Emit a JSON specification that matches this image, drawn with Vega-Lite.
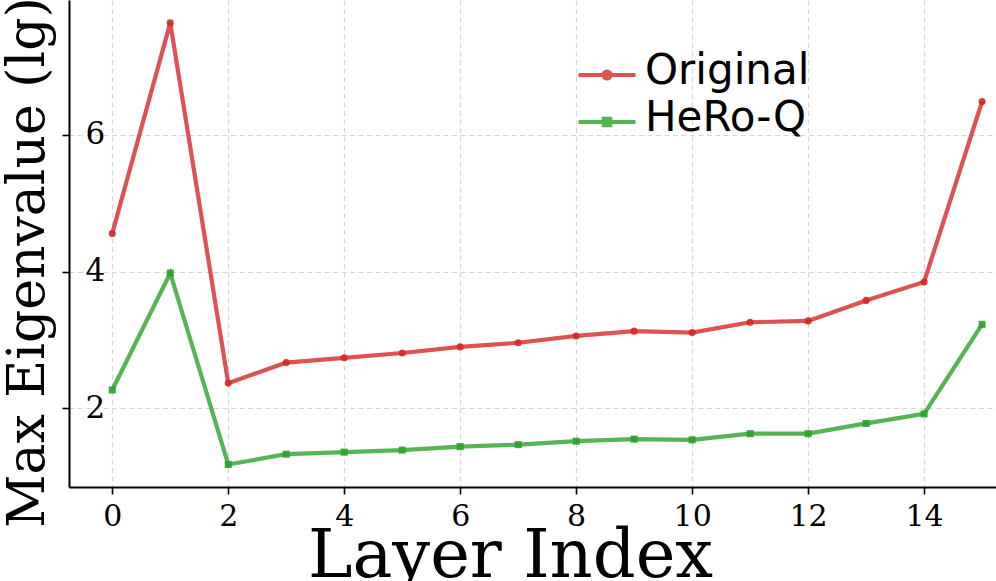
{
  "$schema": "https://vega.github.io/schema/vega-lite/v6.json",
  "autosize": {"type": "none"},
  "padding": {"left": 69, "top": 0, "right": 0, "bottom": 94},
  "width": 927,
  "height": 487,
  "background": "white",
  "data": {"values": [
    {"layer": 0, "value": 4.56, "series": "Original"},
    {"layer": 1, "value": 7.64, "series": "Original"},
    {"layer": 2, "value": 2.37, "series": "Original"},
    {"layer": 3, "value": 2.67, "series": "Original"},
    {"layer": 4, "value": 2.74, "series": "Original"},
    {"layer": 5, "value": 2.81, "series": "Original"},
    {"layer": 6, "value": 2.90, "series": "Original"},
    {"layer": 7, "value": 2.96, "series": "Original"},
    {"layer": 8, "value": 3.06, "series": "Original"},
    {"layer": 9, "value": 3.13, "series": "Original"},
    {"layer": 10, "value": 3.11, "series": "Original"},
    {"layer": 11, "value": 3.26, "series": "Original"},
    {"layer": 12, "value": 3.28, "series": "Original"},
    {"layer": 13, "value": 3.58, "series": "Original"},
    {"layer": 14, "value": 3.85, "series": "Original"},
    {"layer": 15, "value": 6.49, "series": "Original"},
    {"layer": 0, "value": 2.27, "series": "HeRo-Q"},
    {"layer": 1, "value": 3.98, "series": "HeRo-Q"},
    {"layer": 2, "value": 1.18, "series": "HeRo-Q"},
    {"layer": 3, "value": 1.33, "series": "HeRo-Q"},
    {"layer": 4, "value": 1.36, "series": "HeRo-Q"},
    {"layer": 5, "value": 1.39, "series": "HeRo-Q"},
    {"layer": 6, "value": 1.44, "series": "HeRo-Q"},
    {"layer": 7, "value": 1.47, "series": "HeRo-Q"},
    {"layer": 8, "value": 1.52, "series": "HeRo-Q"},
    {"layer": 9, "value": 1.55, "series": "HeRo-Q"},
    {"layer": 10, "value": 1.54, "series": "HeRo-Q"},
    {"layer": 11, "value": 1.63, "series": "HeRo-Q"},
    {"layer": 12, "value": 1.63, "series": "HeRo-Q"},
    {"layer": 13, "value": 1.78, "series": "HeRo-Q"},
    {"layer": 14, "value": 1.92, "series": "HeRo-Q"},
    {"layer": 15, "value": 3.23, "series": "HeRo-Q"}
  ]},
  "encoding": {
    "x": {
      "field": "layer", "type": "quantitative",
      "scale": {"domain": [-0.746, 15.24], "nice": false, "zero": false},
      "axis": {
        "values": [0, 2, 4, 6, 8, 10, 12, 14],
        "title": "Layer Index",
        "titleFont": "DejaVu Serif", "titleFontSize": 67, "titleFontWeight": "normal", "titleColor": "black",
        "titleX": 441, "titleY": 89, "titleBaseline": "alphabetic", "titleAlign": "center", "titleAnchor": null,
        "labelFont": "DejaVu Serif", "labelFontSize": 30, "labelColor": "black", "labelPadding": 7,
        "domainColor": "black", "domainWidth": 2, "tickColor": "black", "tickWidth": 1.6, "tickSize": 7,
        "grid": true, "gridColor": "#d6d6d6", "gridDash": [5, 3.5], "gridWidth": 1.2
      }
    },
    "y": {
      "field": "value", "type": "quantitative",
      "scale": {"domain": [0.85, 7.975], "nice": false, "zero": false},
      "axis": {
        "values": [2, 4, 6],
        "title": "Max Eigenvalue (lg)",
        "titleFont": "DejaVu Serif", "titleFontSize": 52, "titleFontWeight": "normal", "titleColor": "black",
        "titleAngle": -90, "titleX": -26, "titleY": 262, "titleBaseline": "alphabetic", "titleAlign": "center", "titleAnchor": null,
        "labelFont": "DejaVu Serif", "labelFontSize": 31, "labelColor": "black", "labelAlign": "left", "labelPadding": -23,
        "domainColor": "black", "domainWidth": 2, "tickColor": "black", "tickWidth": 1.6, "tickSize": 7,
        "grid": true, "gridColor": "#d6d6d6", "gridDash": [5, 3.5], "gridWidth": 1.2
      }
    },
    "color": {
      "field": "series", "type": "nominal",
      "scale": {"domain": ["Original", "HeRo-Q"], "range": ["#d62728", "#2ca02c"]},
      "legend": {
        "title": null, "orient": "none", "legendX": 517, "legendY": 54,
        "padding": 0, "symbolSize": 400, "symbolStrokeWidth": 4, "symbolOpacity": 0.8,
        "labelFont": "DejaVu Sans", "labelFontSize": 42, "labelColor": "black", "labelOffset": 17, "labelLimit": 0,
        "rowPadding": 5,
        "encode": {
          "symbols": {"update": {
            "shape": {"signal": "datum.value === 'Original' ? 'M-2.85,0H2.85M0,-0.35A0.35,0.35,0,1,1,0,0.35A0.35,0.35,0,1,1,0,-0.35Z' : 'M-2.85,0H2.85M-0.33,-0.33H0.33V0.33H-0.33Z'"},
            "fill": {"signal": "datum.value === 'Original' ? '#d62728' : '#2ca02c'"},
            "stroke": {"signal": "datum.value === 'Original' ? '#d62728' : '#2ca02c'"},
            "strokeWidth": {"value": 4}
          }},
          "labels": {"update": {"dy": {"value": -4}}}
        }
      }
    }
  },
  "layer": [
    {"mark": {"type": "line", "strokeWidth": 4.2, "opacity": 0.8}},
    {
      "transform": [{"filter": "datum.series === 'Original'"}],
      "mark": {"type": "point", "shape": "circle", "filled": true, "size": 50, "opacity": 0.9}
    },
    {
      "transform": [{"filter": "datum.series === 'HeRo-Q'"}],
      "mark": {"type": "point", "shape": "square", "filled": true, "size": 50, "opacity": 0.9}
    }
  ],
  "config": {"view": {"stroke": null}}
}
